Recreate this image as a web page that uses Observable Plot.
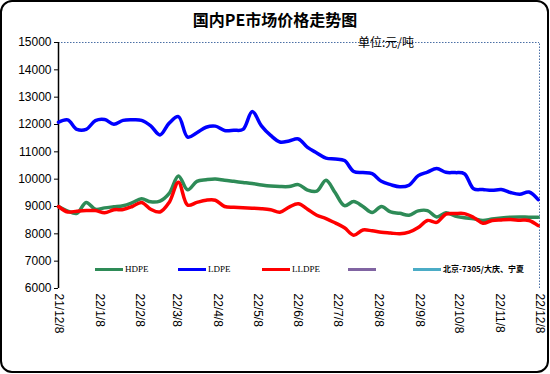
<!DOCTYPE html>
<html><head><meta charset="utf-8">
<script src="https://cdn.jsdelivr.net/npm/d3@7"></script>
<script src="https://cdn.jsdelivr.net/npm/@observablehq/plot@0.6"></script>
<style>
body{margin:0;background:#fff;}
#wrap{position:relative;width:550px;height:374px;overflow:hidden;background:#fff;font-family:"Liberation Sans",Arial,sans-serif;}
#border{position:absolute;left:0;top:0;width:549px;height:373px;border:2px solid #000;border-radius:12px;box-sizing:border-box;pointer-events:none;z-index:5;}
#title{position:absolute;left:0;top:9px;width:550px;text-align:center;font-family:"Noto Sans CJK SC",sans-serif;font-weight:bold;font-size:16px;line-height:20px;color:#000;}
#unit{position:absolute;left:358px;top:35px;font-family:"Noto Sans CJK SC",sans-serif;font-size:12px;line-height:14px;color:#000;z-index:3;}
#chart{position:absolute;left:0;top:30px;}
#legend{position:absolute;left:0;top:263px;width:550px;height:14px;font-family:"Liberation Serif",serif;font-size:9px;z-index:3;}
.li{position:absolute;top:0;height:12px;}
.sw{position:absolute;top:5px;width:28px;height:3px;}
.lt{position:absolute;top:0;left:30px;line-height:12px;white-space:nowrap;}
</style>
</head><body>
<div id="wrap">
  <div id="title">国内PE市场价格走势图</div>
  <div id="chart"></div>
  <div id="unit">单位:元/吨</div>
  <div id="legend"></div>
  <div id="border"></div>
</div>
<script>
// Weekly prices (元/吨), starting 2021-12-08
const hdpe = [9000,8830,8750,9150,8900,8950,8990,9030,9140,9280,9170,9200,9480,10120,9610,9920,9980,10010,9960,9920,9880,9840,9790,9750,9730,9730,9800,9600,9560,9960,9500,9030,9180,9000,8780,9000,8800,8750,8680,8840,8850,8620,8770,8650,8590,8550,8490,8540,8580,8610,8620,8610,8610];
const ldpe = [12080,12170,11820,11820,12140,12180,12010,12150,12170,12150,11950,11620,12050,12290,11540,11700,11900,11940,11780,11790,11820,12480,11950,11600,11360,11400,11470,11160,10960,10770,10740,10680,10280,10240,10200,9920,9800,9720,9780,10130,10260,10390,10250,10240,10200,9650,9620,9590,9620,9510,9450,9530,9250];
const lldpe = [9000,8800,8830,8850,8850,8770,8880,8890,9000,9150,8900,8800,9150,9890,9050,9150,9230,9230,9000,8970,8950,8940,8920,8880,8790,8980,9100,8900,8680,8560,8400,8220,7950,8140,8110,8060,8030,8000,8060,8230,8490,8420,8720,8740,8740,8600,8390,8490,8510,8520,8500,8490,8300];
const seriesNames = ["HDPE","LDPE","LLDPE","","北京-7305/大庆、宁夏"];
const seriesColors = ["#2e8b57","#0000ff","#ff0000","#8064a2","#4bacc6"];
const xTickLabels = ["21/12/8","22/1/8","22/2/8","22/3/8","22/4/8","22/5/8","22/6/8","22/7/8","22/8/8","22/9/8","22/10/8","22/11/8","22/12/8"];
const yTicks = [6000,7000,8000,9000,10000,11000,12000,13000,14000,15000];

const parseLbl = s => { const [y,m,d] = s.split("/").map(Number); return new Date(2000+y, m-1, d); };
const tickDates = xTickLabels.map(parseLbl);
const start = tickDates[0];
const end = tickDates[tickDates.length-1];
const weekDate = i => new Date(start.getFullYear(), start.getMonth(), start.getDate() + 7*i);

const rows = [];
[hdpe, ldpe, lldpe].forEach((arr, k) => arr.forEach((v, i) => rows.push({date: weekDate(i), value: v, series: seriesNames[k]})));

const chart = Plot.plot({
  width: 550,
  height: 344,
  marginLeft: 58,
  marginRight: 11,
  marginTop: 12,
  marginBottom: 86,
  style: {fontFamily: "'Liberation Sans', Arial, sans-serif", fontSize: "12px", background: "transparent", overflow: "visible"},
  x: {type: "time", domain: [start, end]},
  y: {domain: [6000, 15000]},
  color: {domain: seriesNames.slice(0,3), range: seriesColors.slice(0,3)},
  marks: [
    Plot.ruleY([15000], {stroke: "#4a6fa5", strokeDasharray: "1.5,1.5", strokeWidth: 1}),
    Plot.ruleX([end], {y1: 6000, y2: 15000, stroke: "#4a6fa5", strokeDasharray: "1.5,1.5", strokeWidth: 1}),
    Plot.ruleX([start], {y1: 6000, y2: 15000, stroke: "#000", strokeWidth: 1.5}),
    Plot.axisY({ticks: yTicks, tickFormat: d => String(d), tickSize: 4, tickPadding: 3, fontSize: 12, label: null, stroke: "#000"}),
    Plot.axisX({ticks: tickDates, tickFormat: (d, i) => xTickLabels[i], tickRotate: 90, tickSize: 0, tickPadding: 5, fontSize: 12, label: null}),
    Plot.line(rows, {x: "date", y: "value", z: "series", stroke: "series", strokeWidth: 3.5, curve: "catmull-rom"})
  ]
});
document.getElementById("chart").appendChild(chart);

// legend
const legPos = [95, 178, 262, 348, 413];
const leg = document.getElementById("legend");
seriesNames.forEach((n, i) => {
  const d = document.createElement("div");
  d.className = "li";
  d.style.left = legPos[i] + "px";
  d.innerHTML = `<div class="sw" style="background:${seriesColors[i]}"></div><div class="lt" style="${i===4?'font-weight:bold;font-family:\'Noto Sans CJK SC\',sans-serif;font-size:8px':''}">${n}</div>`;
  leg.appendChild(d);
});
</script>
</body></html>
